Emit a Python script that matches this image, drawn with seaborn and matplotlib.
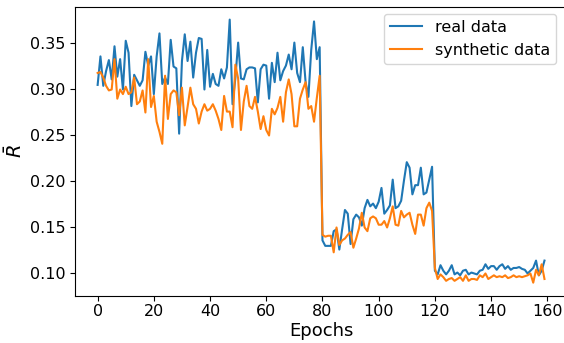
import matplotlib
matplotlib.use("Agg")
import matplotlib.pyplot as plt
import seaborn as sns
import numpy as np
import pandas as pd

# values, one per epoch (0..159)
epochs = np.arange(160)

real = [
    0.304, 0.335, 0.303, 0.319, 0.331, 0.310, 0.346, 0.313, 0.332, 0.299,
    0.352, 0.339, 0.281, 0.315, 0.309, 0.303, 0.309, 0.340, 0.325, 0.335,
    0.294, 0.335, 0.360, 0.305, 0.312, 0.305, 0.353, 0.324, 0.322, 0.251,
    0.330, 0.359, 0.330, 0.351, 0.312, 0.339, 0.355, 0.354, 0.299, 0.342,
    0.302, 0.316, 0.305, 0.303, 0.321, 0.311, 0.323, 0.375, 0.283, 0.311,
    0.350, 0.311, 0.310, 0.321, 0.323, 0.323, 0.322, 0.285, 0.321, 0.326,
    0.325, 0.289, 0.328, 0.307, 0.339, 0.309, 0.319, 0.325, 0.337, 0.321,
    0.350, 0.317, 0.307, 0.345, 0.307, 0.291, 0.342, 0.373, 0.332, 0.345,
    0.135, 0.129, 0.129, 0.129, 0.145, 0.147, 0.125, 0.147, 0.168, 0.164,
    0.131, 0.158, 0.163, 0.160, 0.151, 0.170, 0.179, 0.172, 0.175, 0.170,
    0.177, 0.192, 0.164, 0.168, 0.173, 0.201, 0.170, 0.172, 0.178, 0.200,
    0.220, 0.214, 0.185, 0.195, 0.195, 0.214, 0.185, 0.187, 0.201, 0.215,
    0.102, 0.098, 0.108, 0.102, 0.098, 0.102, 0.108, 0.098, 0.100, 0.097,
    0.102, 0.103, 0.098, 0.100, 0.099, 0.098, 0.102, 0.103, 0.109, 0.104,
    0.107, 0.107, 0.103, 0.107, 0.109, 0.104, 0.107, 0.103, 0.105, 0.105,
    0.106, 0.104, 0.103, 0.099, 0.102, 0.105, 0.113, 0.097, 0.102, 0.113,
]

synthetic = [
    0.317, 0.318, 0.312, 0.303, 0.298, 0.299, 0.332, 0.289, 0.299, 0.294,
    0.302, 0.294, 0.296, 0.312, 0.283, 0.286, 0.298, 0.274, 0.332, 0.280,
    0.292, 0.264, 0.253, 0.240, 0.314, 0.267, 0.294, 0.298, 0.296, 0.271,
    0.301, 0.260, 0.280, 0.301, 0.283, 0.278, 0.262, 0.275, 0.283, 0.276,
    0.278, 0.283, 0.276, 0.267, 0.255, 0.292, 0.275, 0.275, 0.258, 0.326,
    0.311, 0.255, 0.286, 0.303, 0.281, 0.278, 0.291, 0.275, 0.256, 0.270,
    0.255, 0.249, 0.278, 0.272, 0.279, 0.291, 0.264, 0.296, 0.310, 0.294,
    0.259, 0.259, 0.289, 0.299, 0.307, 0.278, 0.281, 0.264, 0.290, 0.314,
    0.141, 0.139, 0.140, 0.140, 0.122, 0.149, 0.130, 0.135, 0.137, 0.141,
    0.144, 0.127, 0.137, 0.148, 0.165, 0.149, 0.145, 0.159, 0.161, 0.159,
    0.152, 0.152, 0.156, 0.149, 0.159, 0.172, 0.152, 0.151, 0.167, 0.160,
    0.163, 0.165, 0.152, 0.142, 0.163, 0.163, 0.151, 0.170, 0.176, 0.167,
    0.105, 0.093, 0.098, 0.095, 0.091, 0.093, 0.094, 0.091, 0.093, 0.095,
    0.091, 0.097, 0.091, 0.093, 0.093, 0.092, 0.097, 0.095, 0.099, 0.093,
    0.095, 0.097, 0.095, 0.096, 0.095, 0.097, 0.094, 0.095, 0.097, 0.095,
    0.096, 0.095, 0.096, 0.097, 0.099, 0.089, 0.103, 0.097, 0.109, 0.093,
]

df = pd.DataFrame({"epoch": epochs, "real": real, "synthetic": synthetic})

fig = plt.figure(figsize=(5.64, 3.43), dpi=100)
ax = fig.add_axes([0.1335, 0.137, 0.8715, 0.8426])

sns.lineplot(data=df, x="epoch", y="real", ax=ax, color="#1f77b4",
             linewidth=1.5, label="real data")
sns.lineplot(data=df, x="epoch", y="synthetic", ax=ax, color="#ff7f0e",
             linewidth=1.5, label="synthetic data")

ax.set_xlim(-7.95, 166.95)
ax.set_ylim(0.0745, 0.3887)
ax.set_xticks([0, 20, 40, 60, 80, 100, 120, 140, 160])
ax.set_yticks([0.10, 0.15, 0.20, 0.25, 0.30, 0.35])
ax.tick_params(labelsize=11.5)
ax.tick_params(axis="x", pad=2.5)
ax.set_xlabel("Epochs", fontsize=13)
ax.xaxis.set_label_coords(0.5, -0.09)
ax.set_ylabel(r"$\bar{R}$", fontsize=14, labelpad=3)
ax.legend(loc="upper right", fontsize=11.5, bbox_to_anchor=(0.995, 1.005))

fig.savefig("out.png", dpi=100)
